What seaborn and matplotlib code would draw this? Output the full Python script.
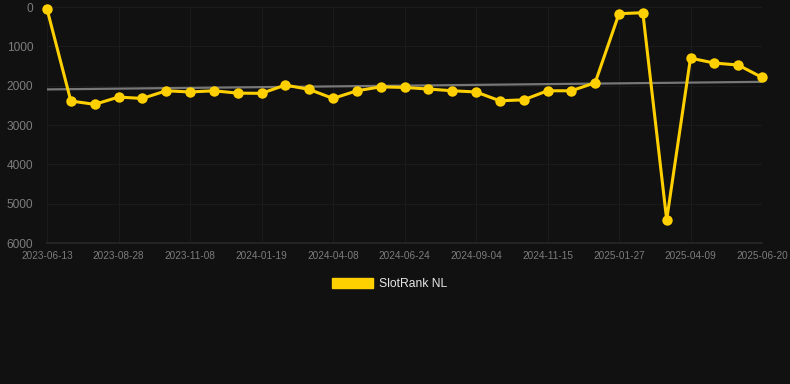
import matplotlib
matplotlib.use("Agg")
import matplotlib.pyplot as plt
from matplotlib.patches import Patch
import seaborn as sns
import numpy as np
import pandas as pd

dates = ["2023-06-13", "2023-07-08", "2023-08-03", "2023-08-28", "2023-09-21", "2023-10-15",
         "2023-11-08", "2023-12-02", "2023-12-26", "2024-01-19", "2024-02-14", "2024-03-13",
         "2024-04-08", "2024-05-03", "2024-05-29", "2024-06-24", "2024-07-18", "2024-08-11",
         "2024-09-04", "2024-09-28", "2024-10-22", "2024-11-15", "2024-12-09", "2025-01-03",
         "2025-01-27", "2025-02-20", "2025-03-16", "2025-04-09", "2025-05-03", "2025-05-27",
         "2025-06-20"]
ranks = [50, 2390, 2475, 2290, 2325, 2130, 2160, 2130, 2190, 2195, 1985, 2095,
         2325, 2130, 2030, 2045, 2085, 2130, 2160, 2385, 2360, 2130, 2130, 1925,
         170, 145, 5410, 1300, 1425, 1475, 1790]
series_name = "SlotRank NL"
y_ticks = [0, 1000, 2000, 3000, 4000, 5000, 6000]

df = pd.DataFrame({"idx": np.arange(len(dates)), "date": dates, "rank": ranks})

sns.set_theme(style="dark")
plt.rcParams["font.family"] = ["Liberation Sans", "DejaVu Sans"]

bg = "#111111"
fig = plt.figure(figsize=(7.9, 3.84), dpi=100, facecolor=bg)
ax = fig.add_axes([47 / 790, 1 - 243 / 384, (762 - 47) / 790, (243 - 7) / 384])
ax.set_facecolor(bg)

# trend line (linear regression)
coef = np.polyfit(df["idx"], df["rank"], 1)
trend = np.polyval(coef, df["idx"])
ax.plot(df["idx"], trend, color="#777777", lw=1.6, zorder=2)

sns.lineplot(data=df, x="idx", y="rank", ax=ax, color="#FFD000", lw=2.2,
             marker="o", markersize=7.5, markeredgewidth=0, zorder=3, clip_on=False)

ax.set_xlim(0, len(dates) - 1)
ax.set_ylim(6000, 0)
ax.set_yticks(y_ticks)
ax.set_yticklabels([str(v) for v in y_ticks], fontsize=8.6, color="#7c7c7c")
tick_pos = list(range(0, len(dates), 3))
ax.set_xticks(tick_pos)
ax.set_xticklabels([dates[i] for i in tick_pos], fontsize=7.2, color="#7c7c7c")
ax.tick_params(axis="both", length=0)
ax.tick_params(axis="y", pad=10)
ax.tick_params(axis="x", pad=6)
ax.grid(True, color="#1b1b1b", lw=0.8)
ax.set_xlabel("")
ax.set_ylabel("")
for s in ax.spines.values():
    s.set_visible(False)
ax.spines["bottom"].set_visible(True)
ax.spines["bottom"].set_color("#262626")

handle = Patch(facecolor="#FFD000", edgecolor="#FFD000")
fig.legend([handle], [series_name], loc="center", bbox_to_anchor=(390 / 790, 1 - 284 / 384),
           frameon=False, fontsize=8.7, labelcolor="#e6e6e6", handlelength=3.4,
           handleheight=0.9, handletextpad=0.5)

fig.savefig("out.png", dpi=100, facecolor=bg)
